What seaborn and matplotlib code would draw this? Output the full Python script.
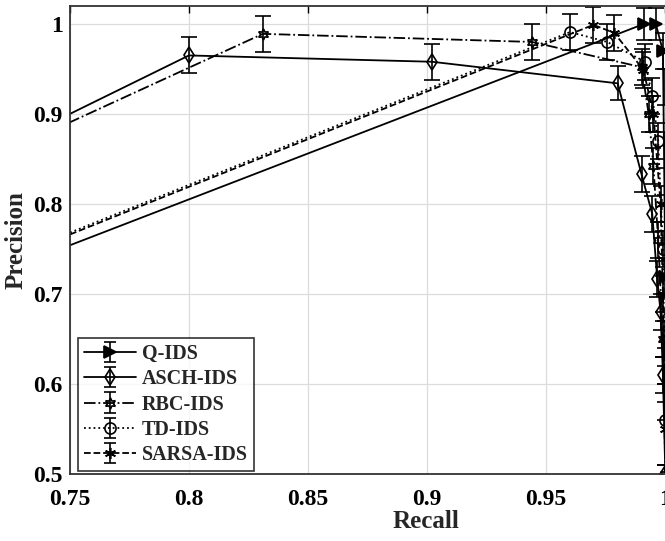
import numpy as np
import pandas as pd
import seaborn as sns
import matplotlib.pyplot as plt

# precision / recall points (first point lies left of the axes)
q_recall = [0.70, 0.991, 0.996, 0.999, 1.0, 1.0, 1.0, 1.0, 1.0, 1.0, 1.0]
q_prec = [0.703, 1.0, 1.0, 0.97, 0.93, 0.86, 0.79, 0.72, 0.65, 0.58, 0.5]
q_err = [0.01, 0.018, 0.018, 0.02, 0.02, 0.02, 0.02, 0.02, 0.02, 0.02, 0.01]

asch_recall = [0.70, 0.80, 0.902, 0.980, 0.990, 0.9945, 0.9966, 0.998, 0.999, 1.0]
asch_prec = [0.835, 0.965, 0.958, 0.934, 0.833, 0.789, 0.717, 0.68, 0.61, 0.5]
asch_err = [0.02, 0.02, 0.02, 0.019, 0.02, 0.02, 0.02, 0.02, 0.02, 0.01]

rbc_recall = [0.70, 0.831, 0.944, 0.990, 0.993, 0.995, 0.997, 0.999, 1.0]
rbc_prec = [0.83, 0.989, 0.980, 0.952, 0.90, 0.842, 0.76, 0.65, 0.5]
rbc_err = [0.02, 0.02, 0.02, 0.02, 0.02, 0.02, 0.02, 0.02, 0.01]

td_recall = [0.70, 0.960, 0.9756, 0.9915, 0.9945, 0.997, 0.999, 1.0, 1.0]
td_prec = [0.715, 0.991, 0.980, 0.958, 0.920, 0.87, 0.75, 0.62, 0.5]
td_err = [0.02, 0.02, 0.02, 0.02, 0.02, 0.02, 0.02, 0.02, 0.01]

sarsa_recall = [0.70, 0.9698, 0.9786, 0.9908, 0.995, 0.998, 0.999, 1.0, 1.0]
sarsa_prec = [0.713, 0.999, 0.990, 0.949, 0.90, 0.80, 0.70, 0.60, 0.5]
sarsa_err = [0.02, 0.02, 0.02, 0.02, 0.02, 0.02, 0.02, 0.02, 0.01]

names = ["Q-IDS", "ASCH-IDS", "RBC-IDS", "TD-IDS", "SARSA-IDS"]
recalls = [q_recall, asch_recall, rbc_recall, td_recall, sarsa_recall]
precs = [q_prec, asch_prec, rbc_prec, td_prec, sarsa_prec]
errs = [q_err, asch_err, rbc_err, td_err, sarsa_err]

styles = {
    "Q-IDS": dict(ls="-", marker=">", mfc="black"),
    "ASCH-IDS": dict(ls="-", marker="d", mfc="none"),
    "RBC-IDS": dict(ls="-.", marker=(6, 1, 0), mfc="none"),
    "TD-IDS": dict(ls=":", marker="o", mfc="none"),
    "SARSA-IDS": dict(ls="--", marker=(6, 2, 0), mfc="none"),
}

sns.set_style("whitegrid")
plt.rcParams["font.family"] = ["Liberation Serif", "DejaVu Serif"]
plt.rcParams["font.weight"] = "bold"

fig = plt.figure(figsize=(6.65, 5.41), dpi=100)
# the original figure is cropped at recall = 1, so the axes run past the right edge
ax = fig.add_axes([0.105, 0.124, 1.071, 0.865])

handles = []
for name, r, p, e in zip(names, recalls, precs, errs):
    st = styles[name]
    df = pd.DataFrame({"Recall": r, "Precision": p})
    sns.lineplot(data=df, x="Recall", y="Precision", sort=False, ax=ax,
                 color="black", linestyle=st["ls"], linewidth=1.3,
                 marker=st["marker"], markersize=8, markerfacecolor=st["mfc"],
                 markeredgecolor="black", markeredgewidth=1.2, legend=False)
    ax.errorbar(r, p, yerr=e, fmt="none", ecolor="black", elinewidth=1.2,
                capsize=6, capthick=1.2)
    h = ax.errorbar([np.nan], [np.nan], yerr=[0.02], color="black",
                    linestyle=st["ls"], linewidth=1.3, marker=st["marker"],
                    markersize=8, markerfacecolor=st["mfc"], markeredgecolor="black",
                    markeredgewidth=1.2, capsize=4, elinewidth=1.2, label=name)
    handles.append(h)

ax.set_xlim(0.75, 1.049)
ax.set_ylim(0.5, 1.02)
xt = [0.75, 0.8, 0.85, 0.9, 0.95, 1.0]
yt = [0.5, 0.6, 0.7, 0.8, 0.9, 1.0]
ax.set_xticks(xt)
ax.set_xticklabels(["0.75", "0.8", "0.85", "0.9", "0.95", "1"])
ax.set_yticks(yt)
ax.set_yticklabels(["0.5", "0.6", "0.7", "0.8", "0.9", "1"])
ax.tick_params(direction="in", length=5, width=1, top=True, right=True,
               labelsize=17, colors="black")
ax.tick_params(axis="x", pad=11)
ax.tick_params(axis="y", pad=5)
for lab in ax.get_xticklabels() + ax.get_yticklabels():
    lab.set_fontweight("bold")
ax.grid(True, color="#dcdcdc", linewidth=0.9)
for s in ax.spines.values():
    s.set_color("#333333")
    s.set_linewidth(1.3)

ax.set_xlabel("Recall", fontsize=18, fontweight="bold", labelpad=0)
ax.set_ylabel("Precision", fontsize=18, fontweight="bold", labelpad=4)

leg = ax.legend(handles=handles, labels=names, loc="lower left",
                bbox_to_anchor=(0.011, 0.006), borderaxespad=0,
                prop={"size": 14.5, "weight": "bold"},
                frameon=True, fancybox=False, edgecolor="black",
                handlelength=2.6, borderpad=0.3, labelspacing=0.26,
                handletextpad=0.3)
leg.get_frame().set_linewidth(1.2)

fig.savefig("out.png", dpi=100)
